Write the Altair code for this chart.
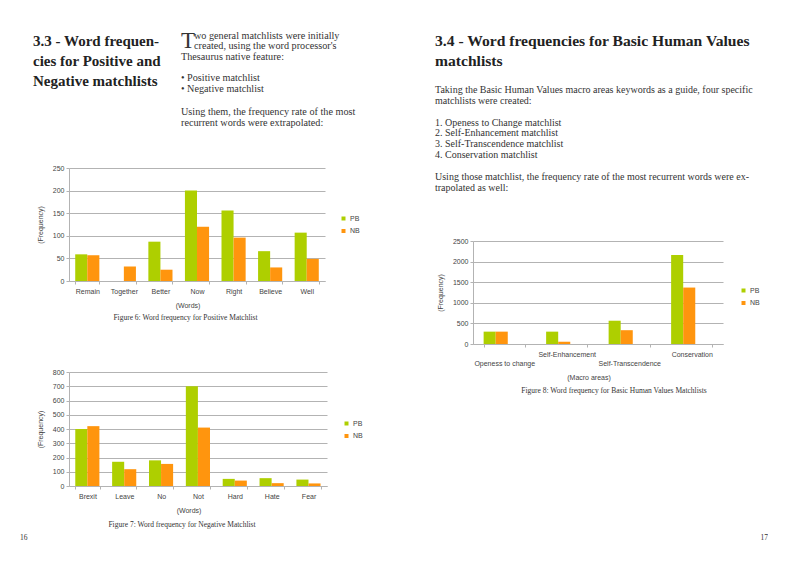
import json
import altair as alt
import pandas as pd

# ---------------- data ----------------
series = ["PB", "NB"]
series_colors = ["#aecf00", "#ff950e"]

pos_words = ["Remain", "Together", "Better", "Now", "Right", "Believe", "Well"]
pos_pb = [59, 0, 87, 200, 156, 66, 107]
pos_nb = [57, 32, 25, 120, 96, 30, 49]

neg_words = ["Brexit", "Leave", "No", "Not", "Hard", "Hate", "Fear"]
neg_pb = [400, 170, 180, 700, 50, 55, 45]
neg_nb = [420, 118, 155, 410, 38, 20, 18]

hv_areas = ["Openess to change", "Self-Enhancement", "Self-Transcendence", "Conservation"]
hv_pb = [300, 300, 565, 2160]
hv_nb = [300, 55, 335, 1370]

# ---------------- page text ----------------
left_heading = ["3.3 - Word frequen-", "cies for Positive and", "Negative matchlists"]
left_dropcap = "T"
left_par_a = ["wo general matchlists were initially", "created, using the word processor's"]
left_par_b = ["Thesaurus native feature:"]
left_par_c = ["\u2022 Positive matchlist", "\u2022 Negative matchlist"]
left_par_d = ["Using them, the frequency rate of the most", "recurrent words were extrapolated:"]

right_heading = ["3.4 - Word frequencies for Basic Human Values", "matchlists"]
right_par_a = ["Taking the Basic Human Values macro areas keywords as a guide, four specific",
               "matchlists were created:"]
right_par_b = ["1. Openess to Change matchlist", "2. Self-Enhancement matchlist",
               "3. Self-Transcendence matchlist", "4. Conservation matchlist"]
right_par_c = ["Using those matchlist, the frequency rate of the most recurrent words were ex-",
               "trapolated as well:"]

cap6 = "Figure 6: Word frequency for Positive Matchlist"
cap7 = "Figure 7: Word frequency for Negative Matchlist"
cap8 = "Figure 8: Word frequency for Basic Human Values Matchlists"
page_left = "16"
page_right = "17"

SERIF = "Liberation Serif"
SANS = "Liberation Sans"
GRID = "#b3b3b3"
TXT = "#444444"

AX = dict(labelFont=SANS, labelFontSize=7, labelColor=TXT,
          titleFont=SANS, titleFontSize=7, titleColor=TXT, titleFontWeight="normal",
          domainColor=GRID, tickColor=GRID, tickSize=3, gridColor=GRID)


def long_df(cats, pb, nb):
    rows = []
    for c, a, b in zip(cats, pb, nb):
        rows.append({"cat": c, "series": "PB", "value": a})
        rows.append({"cat": c, "series": "NB", "value": b})
    return pd.DataFrame(rows)


def one():
    return pd.DataFrame({"k": [0]})


def text_block(lines, x, y, size, weight="normal", color="#333333", line_height=None,
               align="left", font=SERIF):
    kw = dict(font=font, fontSize=size, fontWeight=weight, color=color,
              align=align, baseline="alphabetic")
    if line_height is not None:
        kw["lineHeight"] = line_height
    return alt.Chart(one()).mark_text(**kw).encode(
        x=alt.value(x), y=alt.value(y), text=alt.value(lines))


def bar_chart(cats, pb, nb, ymax, ystep, width, height, xtitle, caption,
              cap_x, cap_y, legx, legy, label_expr=None, line_h=None):
    df = long_df(cats, pb, nb)
    xkw = dict(title=xtitle, labelAngle=0, labelPadding=3, labelOverlap=False,
               tickBand="extent", grid=False, titlePadding=7,
               titleX=width / 2 - 9.5, **AX)
    if label_expr is not None:
        xkw["labelExpr"] = label_expr
        xkw["labelLineHeight"] = line_h
    yaxis = alt.Axis(title="(Frequency)", values=list(range(0, ymax + 1, ystep)),
                     format="d", grid=True, labelPadding=2, titlePadding=9, **AX)
    bars = alt.Chart(df).mark_bar().encode(
        x=alt.X("cat:N", sort=cats,
                scale=alt.Scale(paddingInner=0.34, paddingOuter=0.17),
                axis=alt.Axis(**xkw)),
        xOffset=alt.XOffset("series:N", sort=series),
        y=alt.Y("value:Q", scale=alt.Scale(domain=[0, ymax], nice=False), axis=yaxis),
        color=alt.Color("series:N", sort=series,
                        scale=alt.Scale(domain=series, range=series_colors),
                        legend=alt.Legend(orient="none", legendX=legx, legendY=legy,
                                          title=None, symbolType="square", symbolSize=16,
                                          symbolStrokeWidth=0, labelFont=SANS,
                                          labelFontSize=7, labelColor=TXT,
                                          rowPadding=4.5, padding=0, labelOffset=3)),
    )
    cap = alt.Chart(one()).mark_text(font=SERIF, fontSize=7.5, color="#333333",
                                     align="center", baseline="middle").encode(
        x=alt.value(cap_x), y=alt.value(cap_y), text=alt.value(caption))
    return alt.layer(bars, cap).properties(width=width, height=height)


# ---------------- text panels ----------------
T1 = alt.layer(
    text_block(left_heading, -36, 37.5, 15, weight="bold", color="#222222", line_height=20),
    text_block(left_dropcap, 112, 39.5, 23, color="#333333"),
    text_block(left_par_a, 125, 30.5, 10.2, line_height=10.2),
    text_block(left_par_b, 112, 51.5, 10.2),
    text_block(left_par_c, 112, 73, 10.2, line_height=10.5),
    text_block(left_par_d, 112, 107, 10.2, line_height=11),
    text_block(page_left, -49, 532, 7.5),
).properties(width=300, height=69)

T2 = alt.layer(
    text_block(right_heading, -38, 37.5, 15.6, weight="bold", color="#222222", line_height=20),
    text_block(right_par_a, -38, 85, 10, line_height=11),
    text_block(right_par_b, -38, 117.5, 10, line_height=10.7),
    text_block(right_par_c, -38, 172, 10, line_height=11),
    text_block(page_right, 295, 532, 7.5, align="right"),
).properties(width=250, height=142)

# ---------------- charts ----------------
C1 = bar_chart(pos_words, pos_pb, pos_nb, 250, 50, 256, 113, "(Words)", cap6,
               116.5, 150, 271, 47)
C2 = bar_chart(neg_words, neg_pb, neg_nb, 800, 100, 258, 114, "(Words)", cap7,
               113, 153, 274, 48)
stagger = ("indexof(" + json.dumps(hv_areas) + ", datum.value) % 2 == 0"
           " ? ['', datum.label] : datum.label")
C3 = bar_chart(hv_areas, hv_pb, hv_nb, 2500, 500, 250, 103, "(Macro areas)", cap8,
               141, 150, 267, 46, label_expr=stagger, line_h=9.4)

left = alt.vconcat(T1, C1, C2, spacing=91, bounds="flush").resolve_scale(
    color="independent").resolve_legend(color="independent")
right = alt.vconcat(T2, C3, spacing=91, bounds="flush").resolve_scale(
    color="independent").resolve_legend(color="independent")

chart = alt.hconcat(left, right, spacing=66).resolve_scale(
    color="independent").resolve_legend(color="independent").properties(
    padding={"left": 12, "top": 0, "right": 0, "bottom": 0},
    background="white",
).configure_view(strokeWidth=0)

chart.save("out.html", embed_options={"renderer": "svg", "actions": False})
